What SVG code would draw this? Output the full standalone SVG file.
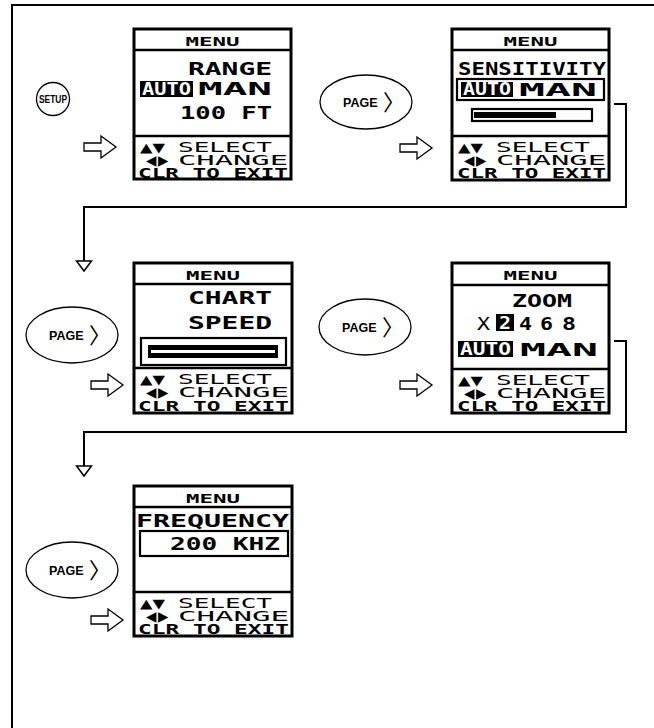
<svg xmlns="http://www.w3.org/2000/svg" width="654" height="728" viewBox="0 0 654 728">
<style>
.scr{fill:#fff;stroke:#000;stroke-width:3}
.dv{stroke:#000;stroke-width:2.5}
.bx{fill:none;stroke:#000;stroke-width:2.2}
.lcd{font-family:"DejaVu Sans Mono",monospace;font-weight:bold;fill:#000}
.big{font-size:18px}
.sm{font-size:13.5px}
.sym{font-family:"DejaVu Sans",sans-serif;font-size:13px;fill:#000}
.lr{font-family:"DejaVu Sans",sans-serif;font-size:13.5px;fill:#000}
.thin{font-weight:normal}
.mn{font-size:12px;text-anchor:middle}
.inv{fill:#fff}
.key{fill:#fff;stroke:#000;stroke-width:1.3}
.kt{font-family:"Liberation Sans",Arial,sans-serif;font-weight:bold;fill:#000}
.br{font-family:"Noto Sans CJK SC",sans-serif;font-size:22px;fill:#000}
.conn{fill:none;stroke:#000;stroke-width:2}
.ha{fill:#fff;stroke:#000;stroke-width:1.3}
</style>
<defs>
<path id="harrow" class="ha" d="M0,-4 H17 V-11 L32,0 L17,11 V4 H0 Z"/>
<marker id="tri" markerUnits="userSpaceOnUse" viewBox="-11 -9 12 18" markerWidth="12" markerHeight="18" refX="0" refY="0" orient="auto">
<path d="M-10,-7.5 L-10,7.5 L0,0 Z" fill="#fff" stroke="#000" stroke-width="1.6"/>
</marker>
</defs>
<rect width="654" height="728" fill="#fff"/>
<path d="M12,728 V5 H654" fill="none" stroke="#000" stroke-width="2"/>

<g id="connectors">
<path class="conn" d="M614,104 H626 V207 H84 V271" marker-end="url(#tri)"/>
<path class="conn" d="M614,341 H626 V432 H84 V476" marker-end="url(#tri)"/>
<use href="#harrow" x="84" y="147"/>
<use href="#harrow" x="400" y="148"/>
<use href="#harrow" x="91" y="385"/>
<use href="#harrow" x="400" y="385"/>
<use href="#harrow" x="91" y="620"/>
</g>

<g id="key-setup">
<circle class="key" cx="53" cy="99" r="16.5"/>
<text class="kt" x="53" y="102.5" font-size="10" text-anchor="middle" textLength="28" lengthAdjust="spacingAndGlyphs">SETUP</text>
</g>
<g id="key-page-1">
<ellipse class="key" cx="366" cy="102" rx="46" ry="27"/>
<text class="kt" x="343" y="107" font-size="12.5">PAGE</text>
<text class="br" x="383" y="110">〉</text>
</g>
<g id="key-page-2">
<ellipse class="key" cx="72" cy="335" rx="46" ry="28"/>
<text class="kt" x="49" y="340" font-size="12.5">PAGE</text>
<text class="br" x="89" y="343">〉</text>
</g>
<g id="key-page-3">
<ellipse class="key" cx="365" cy="327" rx="46" ry="28"/>
<text class="kt" x="342" y="332" font-size="12.5">PAGE</text>
<text class="br" x="382" y="335">〉</text>
</g>
<g id="key-page-4">
<ellipse class="key" cx="72" cy="570" rx="46" ry="28"/>
<text class="kt" x="49" y="575" font-size="12.5">PAGE</text>
<text class="br" x="89" y="578">〉</text>
</g>

<g id="screen-range" transform="translate(134,29)">
<rect class="scr" x="0" y="0" width="157" height="150"/>
<line class="dv" x1="0" y1="21" x2="157" y2="21"/>
<line class="dv" x1="0" y1="107" x2="157" y2="107"/>
<text class="lcd mn" x="78.5" y="16.5" textLength="54" lengthAdjust="spacingAndGlyphs">MENU</text>
<text class="lcd big" x="54" y="45.5" textLength="84" lengthAdjust="spacingAndGlyphs">RANGE</text>
<rect x="6" y="52" width="53" height="16" fill="#000"/>
<text class="lcd big inv" x="8" y="65.5" textLength="49" lengthAdjust="spacingAndGlyphs">AUTO</text>
<text class="lcd big" x="64" y="65.5" textLength="74" lengthAdjust="spacingAndGlyphs">MAN</text>
<text class="lcd big" x="46" y="89.5" textLength="92" lengthAdjust="spacingAndGlyphs">100 FT</text>
<text class="sym" x="6" y="123" textLength="25" lengthAdjust="spacingAndGlyphs">▲▼</text>
<text class="lcd sm thin" x="44" y="123" textLength="94" lengthAdjust="spacingAndGlyphs">SELECT</text>
<text class="lr" x="12" y="136">◀</text><text class="lr" x="24" y="136">▶</text>
<text class="lcd sm thin" x="44" y="136" textLength="110" lengthAdjust="spacingAndGlyphs">CHANGE</text>
<text class="lcd sm" x="4" y="148.5" textLength="150" lengthAdjust="spacingAndGlyphs">CLR TO EXIT</text>
</g>

<g id="screen-sensitivity" transform="translate(452,29)">
<rect class="scr" x="0" y="0" width="157" height="151"/>
<line class="dv" x1="0" y1="21" x2="157" y2="21"/>
<line class="dv" x1="0" y1="107" x2="157" y2="107"/>
<text class="lcd mn" x="78.5" y="16.5" textLength="54" lengthAdjust="spacingAndGlyphs">MENU</text>
<text class="lcd big" x="6" y="45.5" textLength="148" lengthAdjust="spacingAndGlyphs">SENSITIVITY</text>
<rect class="bx" x="5" y="50" width="147" height="21"/>
<rect x="9" y="53" width="52" height="15" fill="#000"/>
<text class="lcd big inv" x="11" y="66" textLength="48" lengthAdjust="spacingAndGlyphs">AUTO</text>
<text class="lcd big" x="67" y="66.5" textLength="78" lengthAdjust="spacingAndGlyphs">MAN</text>
<rect class="bx" x="20" y="80" width="120" height="12"/>
<rect x="22" y="83" width="82" height="6" fill="#000"/>
<text class="sym" x="6" y="123" textLength="25" lengthAdjust="spacingAndGlyphs">▲▼</text>
<text class="lcd sm thin" x="44" y="123" textLength="94" lengthAdjust="spacingAndGlyphs">SELECT</text>
<text class="lr" x="12" y="136">◀</text><text class="lr" x="24" y="136">▶</text>
<text class="lcd sm thin" x="44" y="136" textLength="110" lengthAdjust="spacingAndGlyphs">CHANGE</text>
<text class="lcd sm" x="5" y="149" textLength="149" lengthAdjust="spacingAndGlyphs">CLR TO EXIT</text>
</g>

<g id="screen-chart-speed" transform="translate(134,263)">
<rect class="scr" x="0" y="0" width="158" height="150"/>
<line class="dv" x1="0" y1="21" x2="158" y2="21"/>
<line class="dv" x1="0" y1="105" x2="158" y2="105"/>
<text class="lcd mn" x="79" y="16.5" textLength="54" lengthAdjust="spacingAndGlyphs">MENU</text>
<text class="lcd big" x="54" y="40.5" textLength="84" lengthAdjust="spacingAndGlyphs">CHART</text>
<text class="lcd big" x="54" y="65.5" textLength="84" lengthAdjust="spacingAndGlyphs">SPEED</text>
<rect class="bx" x="7" y="75" width="145" height="27"/>
<rect x="14" y="82" width="130" height="13" fill="#000"/>
<rect x="17" y="87" width="124" height="3" fill="#fff"/>
<text class="sym" x="6" y="121" textLength="25" lengthAdjust="spacingAndGlyphs">▲▼</text>
<text class="lcd sm thin" x="44" y="121" textLength="94" lengthAdjust="spacingAndGlyphs">SELECT</text>
<text class="lr" x="12" y="134">◀</text><text class="lr" x="24" y="134">▶</text>
<text class="lcd sm thin" x="44" y="134" textLength="111" lengthAdjust="spacingAndGlyphs">CHANGE</text>
<text class="lcd sm" x="4" y="147.5" textLength="151" lengthAdjust="spacingAndGlyphs">CLR TO EXIT</text>
</g>

<g id="screen-zoom" transform="translate(452,263)">
<rect class="scr" x="0" y="0" width="157" height="150"/>
<line class="dv" x1="0" y1="22" x2="157" y2="22"/>
<line class="dv" x1="0" y1="106" x2="157" y2="106"/>
<text class="lcd mn" x="78.5" y="17" textLength="54" lengthAdjust="spacingAndGlyphs">MENU</text>
<text class="lcd big" x="60" y="43.5" textLength="60" lengthAdjust="spacingAndGlyphs">ZOOM</text>
<text class="lcd big thin" x="25" y="66.5" textLength="13" lengthAdjust="spacingAndGlyphs">X</text>
<rect x="44" y="51" width="18" height="17" fill="#000"/>
<text class="lcd big inv" x="47" y="66" textLength="12" lengthAdjust="spacingAndGlyphs">2</text>
<text class="lcd big" x="67" y="66.5" textLength="13" lengthAdjust="spacingAndGlyphs">4</text>
<text class="lcd big" x="88" y="66.5" textLength="13" lengthAdjust="spacingAndGlyphs">6</text>
<text class="lcd big" x="110" y="66.5" textLength="14" lengthAdjust="spacingAndGlyphs">8</text>
<rect x="6" y="78" width="55" height="16" fill="#000"/>
<text class="lcd big inv" x="8" y="92" textLength="51" lengthAdjust="spacingAndGlyphs">AUTO</text>
<text class="lcd big" x="68" y="92.5" textLength="78" lengthAdjust="spacingAndGlyphs">MAN</text>
<text class="sym" x="6" y="122" textLength="25" lengthAdjust="spacingAndGlyphs">▲▼</text>
<text class="lcd sm thin" x="44" y="122" textLength="94" lengthAdjust="spacingAndGlyphs">SELECT</text>
<text class="lr" x="12" y="135">◀</text><text class="lr" x="24" y="135">▶</text>
<text class="lcd sm thin" x="44" y="135" textLength="110" lengthAdjust="spacingAndGlyphs">CHANGE</text>
<text class="lcd sm" x="5" y="148" textLength="149" lengthAdjust="spacingAndGlyphs">CLR TO EXIT</text>
</g>

<g id="screen-frequency" transform="translate(134,486)">
<rect class="scr" x="0" y="0" width="158" height="150"/>
<line class="dv" x1="0" y1="21" x2="158" y2="21"/>
<line class="dv" x1="0" y1="106" x2="158" y2="106"/>
<text class="lcd mn" x="79" y="16.5" textLength="54" lengthAdjust="spacingAndGlyphs">MENU</text>
<text class="lcd big" x="2" y="40.5" textLength="153" lengthAdjust="spacingAndGlyphs">FREQUENCY</text>
<rect class="bx" x="6" y="45" width="148" height="25"/>
<text class="lcd big" x="36" y="64" textLength="110" lengthAdjust="spacingAndGlyphs">200 KHZ</text>
<text class="sym" x="6" y="122" textLength="25" lengthAdjust="spacingAndGlyphs">▲▼</text>
<text class="lcd sm thin" x="44" y="122" textLength="94" lengthAdjust="spacingAndGlyphs">SELECT</text>
<text class="lr" x="12" y="135">◀</text><text class="lr" x="24" y="135">▶</text>
<text class="lcd sm thin" x="44" y="135" textLength="111" lengthAdjust="spacingAndGlyphs">CHANGE</text>
<text class="lcd sm" x="4" y="148" textLength="151" lengthAdjust="spacingAndGlyphs">CLR TO EXIT</text>
</g>
</svg>
